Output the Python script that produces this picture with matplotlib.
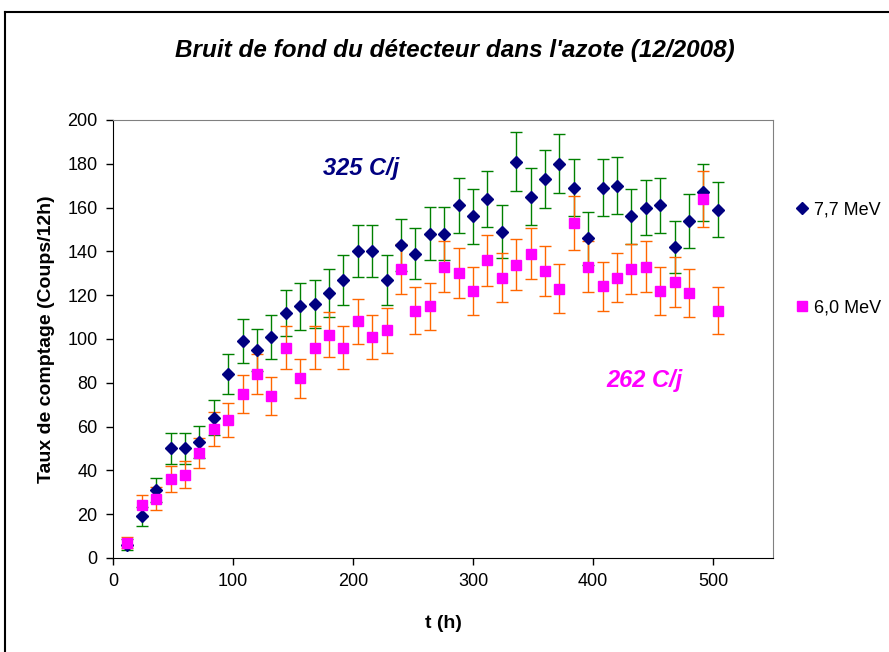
import matplotlib.pyplot as plt
import numpy as np
from matplotlib.lines import Line2D

plt.rcParams['font.family'] = ['Liberation Sans', 'DejaVu Sans']

# temps de mesure (h), une mesure toutes les 12 h
t = [12, 24, 36, 48, 60, 72, 84, 96, 108, 120, 132, 144, 156, 168,
     180, 192, 204, 216, 228, 240, 252, 264, 276, 288, 300, 312, 324, 336,
     348, 360, 372, 384, 396, 408, 420, 432, 444, 456, 468, 480, 492, 504]

# coups par 12 h
counts_77 = [6, 19, 31, 50, 50, 53, 64, 84, 99, 95, 101, 112, 115, 116,
             121, 127, 140, 140, 127, 143, 139, 148, 148, 161, 156, 164, 149, 181,
             165, 173, 180, 169, 146, 169, 170, 156, 160, 161, 142, 154, 167, 159]
counts_60 = [7, 24, 27, 36, 38, 48, 59, 63, 75, 84, 74, 96, 82, 96,
             102, 96, 108, 101, 104, 132, 113, 115, 133, 130, 122, 136, 128, 134,
             139, 131, 123, 153, 133, 124, 128, 132, 133, 122, 126, 121, 164, 113]

# erreur statistique (Poisson)
err_77 = np.sqrt(counts_77)
err_60 = np.sqrt(counts_60)

fig = plt.figure(figsize=(8.89, 6.52), dpi=100)
ax = fig.add_axes([0.1271, 0.1442, 0.7424, 0.6718])

ax.errorbar(t, counts_77, yerr=err_77, fmt='none', ecolor='#008000',
            elinewidth=1, capsize=4, capthick=1, zorder=2)
ax.errorbar(t, counts_60, yerr=err_60, fmt='none', ecolor='#FF6600',
            elinewidth=1, capsize=4, capthick=1, zorder=2)
ax.plot(t, counts_77, linestyle='none', marker='D', ms=6.5,
        color='#000080', zorder=3)
ax.plot(t, counts_60, linestyle='none', marker='s', ms=7,
        color='#FF00FF', zorder=4)

ax.set_xlim(0, 550)
ax.set_ylim(0, 200)
ax.set_xticks(range(0, 501, 100))
ax.set_yticks(range(0, 201, 20))
ax.tick_params(direction='out', length=5, width=1, labelsize=13, pad=6)

for s in ['top', 'right']:
    ax.spines[s].set_color('#808080')
for s in ['left', 'bottom']:
    ax.spines[s].set_color('black')

ax.set_xlabel('t (h)', fontsize=14, fontweight='bold', labelpad=18)
ax.set_ylabel('Taux de comptage (Coups/12h)', fontsize=14,
              fontweight='bold', labelpad=9)

ax.text(207, 178, '325 C/j', color='#000080', fontsize=17,
        fontweight='bold', fontstyle='italic', ha='center', va='center')
ax.text(443, 81, '262 C/j', color='#FF00FF', fontsize=17,
        fontweight='bold', fontstyle='italic', ha='center', va='center')

fig.text(0.512, 0.923, "Bruit de fond du détecteur dans l'azote (12/2008)",
         fontsize=17.5, fontweight='bold', fontstyle='italic',
         ha='center', va='center')

handles = [Line2D([], [], linestyle='none', marker='D', ms=6.5, color='#000080'),
           Line2D([], [], linestyle='none', marker='s', ms=7, color='#FF00FF')]
fig.legend(handles, ['7,7 MeV', '6,0 MeV'], loc='upper left',
           bbox_to_anchor=(0.879, 0.716), frameon=False, fontsize=13,
           labelspacing=4.5, handlelength=0.5, handletextpad=0.4)

# cadre extérieur
fig.add_artist(Line2D([5 / 889, 1], [1 - 12 / 652, 1 - 12 / 652],
                      color='black', lw=1.5, transform=fig.transFigure))
fig.add_artist(Line2D([5 / 889, 5 / 889], [0, 1 - 12 / 652],
                      color='black', lw=1.5, transform=fig.transFigure))

fig.savefig('out.png', dpi=100)
